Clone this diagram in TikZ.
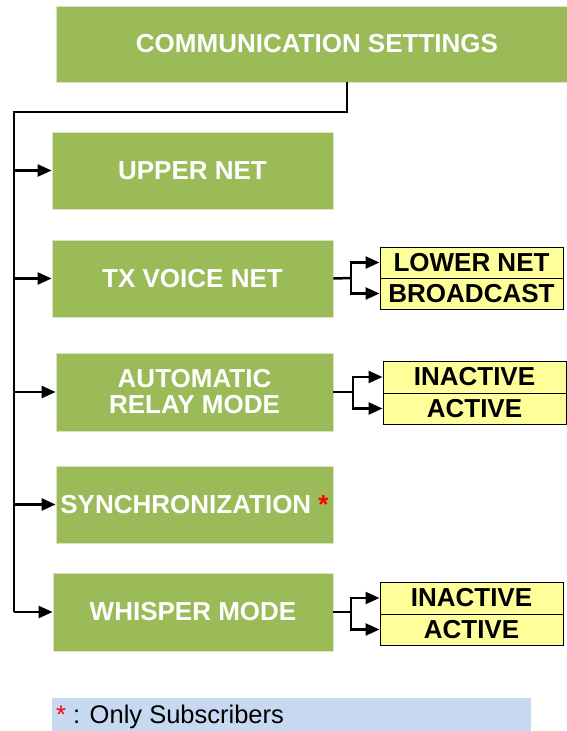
\documentclass[tikz,border=0pt]{standalone}
\usepackage{fontspec}
\setmainfont{Liberation Sans}
\usetikzlibrary{arrows.meta}
\definecolor{gbox}{RGB}{155,187,89}
\definecolor{ybox}{RGB}{255,255,153}
\definecolor{lbox}{RGB}{198,217,240}
\definecolor{gedge}{RGB}{215,228,189}
\tikzset{
  gnode/.style={fill=gbox, draw=gedge, line width=0.8pt, inner sep=0pt, text=white,
    font=\fontsize{26}{26}\selectfont\bfseries, align=center},
  ynode/.style={fill=ybox, draw=black, line width=1pt, inner sep=0pt, text=black,
    minimum width=183pt, minimum height=31pt, font=\fontsize{26}{26}\selectfont\bfseries},
  conn/.style={line width=2.5pt, draw=black},
  arr/.style={conn, -{Triangle[length=14pt,width=12pt]}}
}
\begin{document}
\begin{tikzpicture}[x=1pt,y=-1pt]
\useasboundingbox (0,0) rectangle (566,731);
% green boxes
\node[gnode, minimum width=522pt, minimum height=76pt] (top) at (317,44) {COMMUNICATION SETTINGS};
\node[gnode, minimum width=281pt, minimum height=77pt] (upper) at (192.5,170.5) {UPPER NET};
\node[gnode, minimum width=281pt, minimum height=77pt] (tx) at (192.5,278.5) {TX VOICE NET};
\node[gnode, minimum width=277pt, minimum height=78pt] (relay) at (194.5,392) {AUTOMATIC\\RELAY MODE};
\node[gnode, minimum width=277pt, minimum height=77pt] (sync) at (194.5,504.5) {SYNCHRONIZATION \textcolor{red}{*}};
\node[gnode, minimum width=280pt, minimum height=78pt] (whisper) at (193,612) {WHISPER MODE};
% yellow boxes
\node[ynode] (lower) at (471.5,262.5) {LOWER NET};
\node[ynode] (broad) at (471.5,293.5) {BROADCAST};
\node[ynode, minimum height=32pt] (rin) at (474.5,377) {INACTIVE};
\node[ynode] (ract) at (474.5,408.5) {ACTIVE};
\node[ynode, minimum height=32pt] (win) at (471.5,598) {INACTIVE};
\node[ynode] (wact) at (471.5,629.5) {ACTIVE};
% legend
\fill[lbox] (52,698) rectangle (531,735);
\node[anchor=west, inner sep=0pt, font=\fontsize{25.5}{26}\selectfont] (legend) at (56,717) {\textcolor{red}{*} : Only Subscribers};
% bus
\coordinate (tap) at (347,0);
\coordinate (busTop) at (14,112);
\coordinate (busBot) at (14,612);
\draw[conn] (top.south -| tap) |- (busTop) -- (busBot);
\foreach \n in {upper,tx,relay,sync,whisper}{
  \draw[arr] (busTop |- \n.west) -- (\n.west);
}
% branches
\coordinate (j1) at (351,278);
\coordinate (j2) at (353,392);
\coordinate (j3) at (351,612);
\draw[conn] (tx.east) -- (j1);
\draw[arr] (j1) |- (lower.west);
\draw[arr] (j1) |- (broad.west);
\draw[conn] (relay.east) -- (j2);
\draw[arr] (j2) |- (rin.west);
\draw[arr] (j2) |- (ract.west);
\draw[conn] (whisper.east) -- (j3);
\draw[arr] (j3) |- (win.west);
\draw[arr] (j3) |- (wact.west);
\end{tikzpicture}
\end{document}
